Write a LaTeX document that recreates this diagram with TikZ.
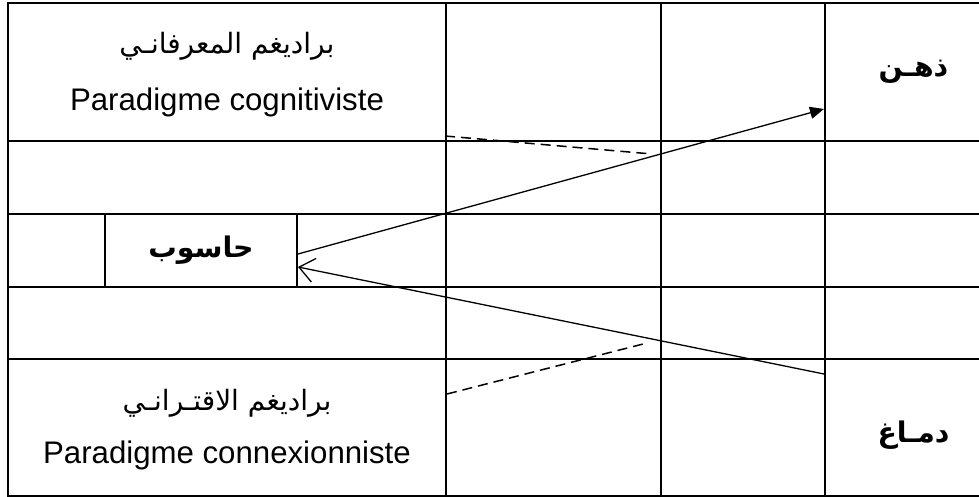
\documentclass[tikz,border=0pt]{standalone}
\usepackage{fontspec}
\setmainfont{Liberation Sans}
\newfontfamily\arabicfont[Script=Arabic]{DejaVu Sans}
\TeXXeTstate=1
\usetikzlibrary{
    arrows.meta,
    positioning,
    calc
}
\tikzset{
    gridcell/.style={
        rectangle, draw=black, line width=1pt, inner sep=0pt,
        anchor=north west
    },
    artext/.style={font=\fontsize{14}{16}\selectfont\arabicfont, inner sep=0pt},
    arbold/.style={font=\fontsize{14.2}{17}\selectfont\arabicfont\bfseries, inner sep=0pt},
    lattext/.style={font=\fontsize{15.6}{18}\selectfont, inner sep=0pt},
    farr/.style={-{Triangle[length=7pt, width=6pt]}, line width=0.65pt, black},
    barr/.style={-{Straight Barb[length=7.5pt, width=12pt]}, line width=0.65pt, black},
    dline/.style={dashed, dash pattern=on 5pt off 3pt, line width=0.75pt, black},
}

\begin{document}
\begin{tikzpicture}[x=0.5pt, y=-0.5pt]
    \useasboundingbox (0,0) rectangle (979,497);

    % ── grille : 4 colonnes x 5 lignes ────────────────────
    \foreach \cx/\cw [count=\i] in {7/219pt, 445/107.5pt, 660/82pt, 824/78.5pt}
        \foreach \ry/\rh [count=\j] in {2/69pt, 140/36.5pt, 213/36.5pt, 286/36pt, 358/68.5pt}
            \node [gridcell, minimum width=\cw, minimum height=\rh]
                (cell-\i-\j) at (\cx,\ry) {};

    % ── case « ordinateur » au milieu de la 1re colonne ──
    \node [gridcell, minimum width=96pt, minimum height=36.5pt]
        (comp) at (104,213) {};
    \node [arbold] at (comp.center) {\beginR حاسوب\endR};

    % ── paradigmes ───────────────────────────────────────
    \node [artext, yshift=13pt] (cogAr) at (cell-1-1.center)
        {\beginR براديغم المعرفانـي\endR};
    \node [lattext, yshift=-15pt] (cogLat) at (cell-1-1.center) {Paradigme cognitiviste};
    \node [artext, yshift=12pt] (conAr) at (cell-1-5.center)
        {\beginR براديغم الاقتـرانـي\endR};
    \node [lattext, yshift=-14pt] (conLat) at (cell-1-5.center) {Paradigme connexionniste};

    % ── esprit / cerveau ─────────────────────────────────
    \node [arbold, xshift=5pt] (mindL) at (cell-4-1.center) {\beginR ذهـن\endR};
    \node [arbold, xshift=5pt, yshift=-4pt] (brainL) at (cell-4-5.center) {\beginR دمـاغ\endR};

    % ── flèches ──────────────────────────────────────────
    \draw [farr] ($(comp.east)+(0,3.5)$) -- ($(cell-4-1.west)+(0,37)$);
    \draw [barr] ($(cell-4-5.west)+(0,-53.5)$) -- ($(comp.east)+(0,16.5)$);

    % ── traits pointillés ────────────────────────────────
    \coordinate (dA) at (445,136);
    \coordinate (dB) at (652,154);
    \coordinate (dC) at (447,394);
    \coordinate (dD) at (647,343);
    \draw [dline] (dA) -- (dB);
    \draw [dline] (dC) -- (dD);

\end{tikzpicture}
\end{document}
